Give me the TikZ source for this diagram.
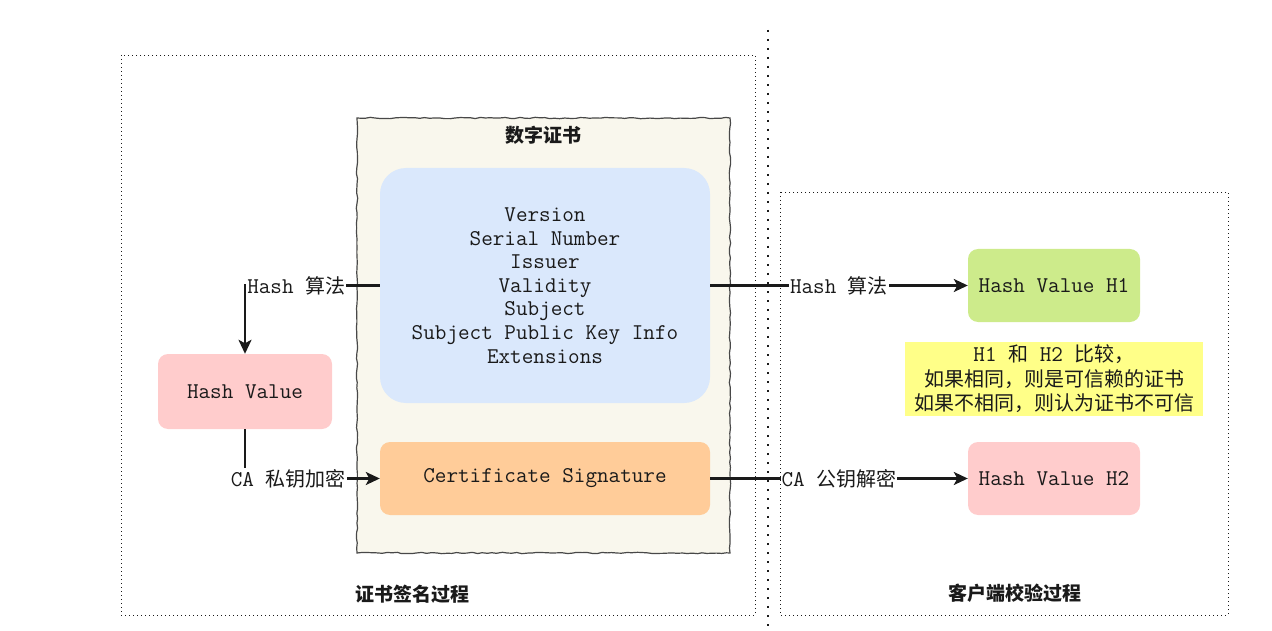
\documentclass[tikz,border=0pt]{standalone}
\usepackage{fontspec}
\newfontfamily\cjk{Noto Sans CJK SC}
\usetikzlibrary{arrows.meta,decorations.pathmorphing}

\definecolor{certfill}{HTML}{F9F7ED}
\definecolor{infofill}{HTML}{DAE8FC}
\definecolor{sigfill}{HTML}{FFCC99}
\definecolor{hashfill}{HTML}{FFCCCC}
\definecolor{okfill}{HTML}{CDEB8B}
\definecolor{notefill}{HTML}{FFFF88}
\definecolor{ink}{HTML}{1A1A1A}

\newcommand{\mono}[1]{{\ttfamily\fontsize{22.5}{24}\selectfont #1}}

\begin{document}
\begin{tikzpicture}[x=1pt,y=-1pt,
    every node/.style={text=ink, font=\cjk\fontsize{20}{24.5}\selectfont},
    box/.style={rounded corners=10pt, inner sep=0pt, align=center,
      font=\ttfamily\fontsize{22.5}{23.6}\selectfont},
    lbl/.style={fill=white, inner sep=1pt},
    title/.style={font=\cjk\bfseries\fontsize{19}{22}\selectfont},
    frame/.style={draw=ink, line width=0.9pt, dash pattern=on 1pt off 3pt},
    arr/.style={draw=ink, line width=2.2pt, -{Stealth[length=14pt,width=13pt,inset=3.5pt]}},
    line/.style={draw=ink, line width=2.2pt}]
  \useasboundingbox (0,0) rectangle (1272,631);
  %% Draw the frames
  \draw[frame] (121,55) rectangle (755,615);
  \draw[frame] (780,192) rectangle (1228,615);
  \draw[ink, line width=2.4pt, dash pattern=on 2pt off 7pt] (768,30) -- (768,631);
  \node[title] (left) at (412,594) {证书签名过程};
  \node[title] (right) at (1015,593) {客户端校验过程};
  %% Draw the certificate
  \draw[draw=ink!80, line width=1.2pt, fill=certfill,
    decorate, decoration={random steps, segment length=5pt, amplitude=0.7pt}]
    (357,118) rectangle (730,553);
  \node[title] (cert) at (543,135) {数字证书};
  \node[box, fill=infofill, rounded corners=26pt, minimum width=330pt, minimum height=235pt]
    (info) at (545,285.5) {Version\\Serial Number\\Issuer\\Validity\\Subject\\Subject Public Key Info\\Extensions};
  \node[box, fill=sigfill, minimum width=330pt, minimum height=73pt]
    (sig) at (545,478.5) {Certificate Signature};
  %% Draw the hash values
  \node[box, fill=hashfill, minimum width=174pt, minimum height=75pt]
    (hv) at (245,391.5) {Hash Value};
  \node[box, fill=okfill, minimum width=172pt, minimum height=73pt]
    (h1) at (1054,285.5) {Hash Value H1};
  \node[box, fill=hashfill, minimum width=172pt, minimum height=73pt]
    (h2) at (1054,478.5) {Hash Value H2};
  \node[fill=notefill, inner sep=0pt, minimum width=298pt, minimum height=74pt, align=center]
    (note) at (1054,379) {\mono{H1 }和\mono{ H2 }比较，\\如果相同，则是可信赖的证书\\如果不相同，则认为证书不可信};
  %% Draw the edges
  \draw[arr] (info.west) -| node[lbl, pos=0.31] {\mono{Hash }算法} (hv.north);
  \draw[arr] (hv.south) |- node[lbl, pos=0.66] {\mono{CA }私钥加密} (sig.west);
  \draw[arr] (info.east) -- node[lbl] {\mono{Hash }算法} (h1.west);
  \draw[arr] (sig.east) -- node[lbl] {\mono{CA }公钥解密} (h2.west);
\end{tikzpicture}
\end{document}
